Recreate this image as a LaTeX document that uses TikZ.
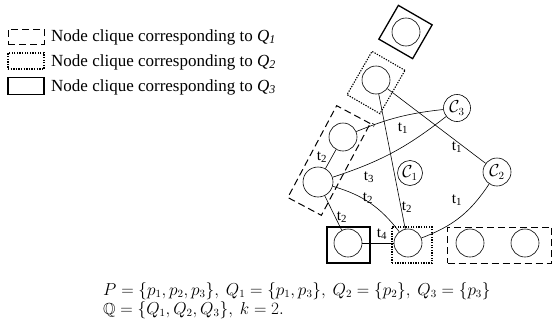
\documentclass[tikz,border=0pt]{standalone}
\usepackage{fontspec}
\usepackage{amssymb}
\setmainfont{Liberation Serif}
\usetikzlibrary{decorations.markings}
\begin{document}
\begin{tikzpicture}[x=1pt,y=1pt,
  vert/.style={circle,draw,line width=0.6pt,minimum size=28pt,inner sep=0pt},
  cvert/.style={circle,draw,line width=0.6pt,minimum size=25pt,inner sep=0pt,font=\fontsize{16}{16}\selectfont},
  edge/.style={line width=0.6pt},
  lab/.style={font=\fontsize{15.5}{15.5}\selectfont,inner sep=0pt},
  legtext/.style={font=\fontsize{17}{17}\selectfont,anchor=west,inner sep=0pt},
  qone/.style={draw,dash pattern=on 7pt off 4pt,line width=1pt,inner sep=0pt},
  qtwo/.style={draw,dash pattern=on 1.3pt off 1.3pt,line width=1.1pt,inner sep=0pt},
  qthree/.style={draw,line width=1.3pt,inner sep=0pt},
]
\useasboundingbox (0,0) rectangle (553,333);
% legend
\node[qone,minimum width=36pt,minimum height=15pt] (l1) at (26,296.5) {};
\node[qtwo,minimum width=36pt,minimum height=16pt] (l2) at (26,272) {};
\node[qthree,minimum width=36pt,minimum height=17pt] (l3) at (26,247) {};
\node[legtext] (t1l) at (51,296) {Node clique corresponding to \textit{Q}\textsubscript{\textit{1}}};
\node[legtext] (t2l) at (51,271) {Node clique corresponding to \textit{Q}\textsubscript{\textit{2}}};
\node[legtext] (t3l) at (51,246) {Node clique corresponding to \textit{Q}\textsubscript{\textit{3}}};
% vertices
\node[vert] (n0) at (406,301) {};
\node[vert] (n1) at (376,253) {};
\node[vert] (A) at (343,196) {};
\node[vert,minimum size=30pt] (B) at (318,151) {};
\node[cvert,minimum size=27pt] (c3) at (457,225) {$\mathcal{C}_3$};
\node[cvert] (c1) at (410,160) {$\mathcal{C}_1$};
\node[cvert,minimum size=28pt] (c2) at (497,161) {$\mathcal{C}_2$};
\node[vert] (D) at (348,90) {};
\node[vert] (E) at (408,90) {};
\node[vert] (F) at (470,90) {};
\node[vert] (G) at (525,90) {};
% clique boxes
\node[qthree,minimum width=39pt,minimum height=39pt,rotate=-30] (b0) at (405.5,301) {};
\node[qtwo,minimum width=38pt,minimum height=50pt,rotate=-30] (b1) at (376,250.5) {};
\node[qone,minimum width=38pt,minimum height=104pt,rotate=-28] (bAB) at (329,172.5) {};
\node[qthree,minimum width=43pt,minimum height=36pt] (bD) at (348.5,88) {};
\node[qtwo,minimum width=40pt,minimum height=36pt] (bE) at (412,88) {};
\node[qone,minimum width=104pt,minimum height=36pt] (bFG) at (499.5,88) {};
% edges
\draw[edge] (n1) -- (E);
\draw[edge] (n1) -- (c2);
\draw[edge,postaction={decorate},decoration={markings,mark=at position 0.22 with {\arrow{>}}}] (A) to[bend left=8] (c3);
\draw[edge] (B) to[bend right=10] (c3);
\draw[edge] (A) -- (B);
\draw[edge] (B) to[bend left=18] (E);
\draw[edge] (B) -- (D);
\draw[edge] (D) -- (E);
\draw[edge] (E) to[bend right=18] (c2);
% edge labels
\node[lab] (e1) at (403,205) {t\textsubscript{1}};
\node[lab] (e2) at (369,156) {t\textsubscript{3}};
\node[lab] (e3) at (322,176) {t\textsubscript{2}};
\node[lab] (e4) at (368,135) {t\textsubscript{2}};
\node[lab] (e5) at (342,116) {t\textsubscript{2}};
\node[lab] (e6) at (407,126) {t\textsubscript{2}};
\node[lab] (e7) at (382,99) {t\textsubscript{4}};
\node[lab] (e8) at (457,186) {t\textsubscript{1}};
\node[lab] (e9) at (457,133) {t\textsubscript{1}};
% formula
\node[anchor=west,align=left,inner sep=0pt,font=\fontsize{16}{19}\selectfont] (form) at (103,32.5)
  {$P=\{p_1,p_2,p_3\},\ Q_1=\{p_1,p_3\},\ Q_2=\{p_2\},\ Q_3=\{p_3\}$\\
   $\mathbb{Q}=\{Q_1,Q_2,Q_3\},\ k=2.$};
\end{tikzpicture}
\end{document}
